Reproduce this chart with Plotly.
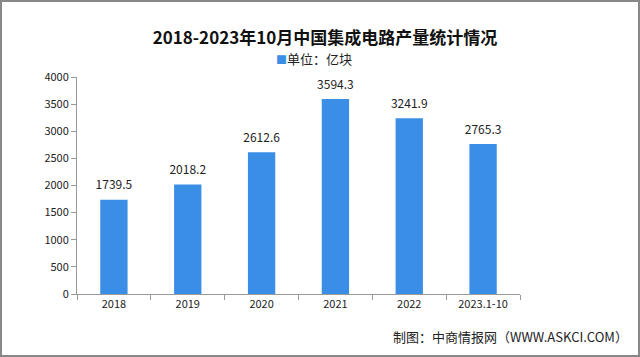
import plotly.graph_objects as go

categories = ["2018", "2019", "2020", "2021", "2022", "2023.1-10"]
values = [1739.5, 2018.2, 2612.6, 3594.3, 3241.9, 2765.3]
value_labels = ["1739.5", "2018.2", "2612.6", "3594.3", "3241.9", "2765.3"]
y_ticks = [0, 500, 1000, 1500, 2000, 2500, 3000, 3500, 4000]

FONT = "Noto Sans CJK SC, sans-serif"
BAR = "#3a8ee6"

fig = go.Figure()
fig.add_trace(go.Bar(
    x=categories, y=values, name="单位：亿块",
    marker=dict(color=BAR, line=dict(width=0)),
    showlegend=False, hoverinfo="skip",
))
fig.add_trace(go.Scatter(
    x=categories, y=values, mode="markers+text",
    marker=dict(size=10, opacity=0),
    text=value_labels, textposition="top center",
    textfont=dict(size=12, color="#222222", family=FONT),
    cliponaxis=False, showlegend=False, hoverinfo="skip",
))

fig.update_layout(
    width=640, height=357,
    margin=dict(l=77, r=120, t=77, b=63, autoexpand=False),
    paper_bgcolor="white", plot_bgcolor="white",
    bargap=0.63,
    font=dict(family=FONT, color="#222222", size=11),
    title=dict(text="<b>2018-2023年10月中国集成电路产量统计情况</b>",
               x=325/640, xanchor="center", y=1 - 38/357, yanchor="middle",
               xref="container", yref="container",
               font=dict(size=17, color="#111111", family=FONT)),
    showlegend=False,
    xaxis=dict(type="category", showline=True, linecolor="#999999", linewidth=1,
               ticks="outside", tickson="boundaries", ticklen=5, tickcolor="#999999",
               tickfont=dict(size=11, color="#222222"), showgrid=False, automargin=False),
    yaxis=dict(range=[0, 4000], tickvals=y_ticks, showline=True, linecolor="#999999",
               linewidth=1, ticks="outside", ticklen=5, tickcolor="#999999",
               tickfont=dict(size=11, color="#222222"), showgrid=False, zeroline=False,
               automargin=False),
    annotations=[
        dict(text=f"<span style='color:{BAR};font-size:11px'>■</span>单位：亿块",
             xref="paper", yref="paper", x=(314 - 77)/443, xanchor="center",
             y=(294 - 58)/217, yanchor="middle", showarrow=False,
             font=dict(size=13, color="#222222")),
        dict(text="制图：中商情报网（WWW.ASKCI.COM）", xref="paper", yref="paper",
             x=1 + 110/443, xanchor="right", y=-42/217, yanchor="middle", showarrow=False,
             font=dict(size=13, color="#222222")),
    ],
    shapes=[dict(type="rect", xref="paper", yref="paper",
                 x0=-76/443, x1=1+119/443, y0=-62/217, y1=1+76/217,
                 line=dict(color="#888888", width=2), fillcolor="rgba(0,0,0,0)")],
)

fig.write_html("out.html", config={"displayModeBar": False},
               post_script="document.body.style.margin='0';document.body.style.overflow='hidden';")
